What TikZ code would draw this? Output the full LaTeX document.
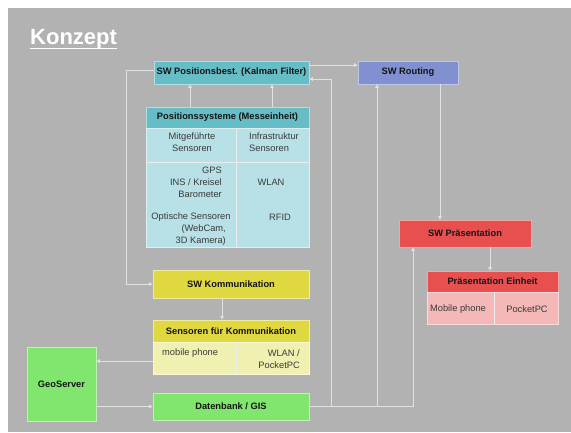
\documentclass[tikz,border=0pt]{standalone}
\usepackage{fontspec}
\setmainfont{Liberation Sans}
\usetikzlibrary{arrows.meta,calc}
\definecolor{bgc}{HTML}{B2B2B2}
\definecolor{lineC}{HTML}{E2E2E2}
\definecolor{txt}{HTML}{141414}
\definecolor{stxt}{HTML}{3A3A3A}
\definecolor{tealH}{HTML}{66BDC6}
\definecolor{tealB}{HTML}{B7E1E6}
\definecolor{routC}{HTML}{8090D0}
\definecolor{redH}{HTML}{E85050}
\definecolor{redB}{HTML}{F4B8B8}
\definecolor{yelH}{HTML}{E0D840}
\definecolor{yelB}{HTML}{F0F0B0}
\definecolor{grnC}{HTML}{80E66E}
\begin{document}
\begin{tikzpicture}[x=1pt,y=-1pt,
  conn/.style={draw=lineC, line width=0.9pt},
  arr/.style={conn, -{Triangle[length=3.5pt,width=3.5pt]}},
  box/.style={rectangle, inner sep=0pt, line width=0.8pt, text=txt,
    font=\bfseries\fontsize{9.3}{11}\selectfont},
  cell/.style={inner sep=0pt, text=stxt, font=\fontsize{9.3}{12}\selectfont},
  split/.style={draw=white!85!gray, line width=0.8pt}
]
\useasboundingbox (0,0) rectangle (571,433);
\fill[white] (0,0) rectangle (571,433);
\fill[bgc] (8,8) rectangle (571,432);

% title
\node[anchor=base west, inner sep=0pt, text=white, font=\bfseries\fontsize{22}{24}\selectfont] (title) at (30,45) {Konzept};
\draw[white, line width=1.6pt] ([yshift=-3.5pt]title.base west) -- ([yshift=-3.5pt]title.base east);

% top boxes
\node[box, fill=tealH, draw=tealH!50!white, minimum width=155pt, minimum height=23pt] (pos) at (231.5,72.5) {SW Positionsbest. (Kalman Filter)};
\node[box, fill=routC, draw=routC!50!white, minimum width=100pt, minimum height=23pt] (rout) at (408,72.5) {SW Routing};

% Positionssysteme table
\node[box, fill=tealH, draw=tealH!50!white, minimum width=163pt, minimum height=21pt] (psh) at (227.5,117.5) {Positionssysteme (Messeinheit)};
\node[box, fill=tealB, draw=tealB!50!white, minimum width=163pt, minimum height=119pt] (psb) at (227.5,187.5) {};
\coordinate (cs1) at (236,162);
\draw[split] (psb.north -| cs1) -- (psb.south -| cs1);
\draw[split] (psb.west |- cs1) -- (psb.east |- cs1);
\node[cell, align=center] (ps11) at (192,142) {Mitgeführte\\Sensoren};
\node[cell, align=left, anchor=west] (ps12) at (249,142) {Infrastruktur\\Sensoren};
\node[cell, align=right, anchor=east] (ps21) at (222,182) {GPS\\INS / Kreisel\\Barometer};
\node[cell] (ps22) at (271,182) {WLAN};
\node[cell] (ps31) at (191,217) {Optische Sensoren};
\node[cell, align=right, anchor=east] (ps31b) at (226,235) {(WebCam,\\3D Kamera)};
\node[cell] (ps32) at (280,217) {RFID};

% Kommunikation
\node[box, fill=yelH, draw=yelH!50!white, minimum width=156pt, minimum height=28pt] (swk) at (231,284) {SW Kommunikation};
\node[box, fill=yelH, draw=yelH!50!white, minimum width=156pt, minimum height=22pt] (skh) at (231,331) {Sensoren für Kommunikation};
\node[box, fill=yelB, draw=yelB!50!white, minimum width=156pt, minimum height=32pt] (skb) at (231,358) {};
\coordinate (cs2) at (236,0);
\draw[split] (skb.north -| cs2) -- (skb.south -| cs2);
\node[cell, anchor=west] (sk1) at (162,353) {mobile phone};
\node[cell, align=right, anchor=east] (sk2) at (300,359) {WLAN /\\PocketPC};

% GeoServer, Datenbank
\node[box, fill=grnC, draw=grnC!50!white, minimum width=69pt, minimum height=74pt] (geo) at (61.5,384) {GeoServer};
\node[box, fill=grnC, draw=grnC!50!white, minimum width=156pt, minimum height=27pt] (db) at (231,406.5) {Datenbank / GIS};

% Praesentation
\node[box, fill=redH, draw=redH!50!white, minimum width=132pt, minimum height=27pt] (swp) at (465,233.5) {SW Präsentation};
\node[box, fill=redH, draw=redH!50!white, minimum width=131pt, minimum height=21pt] (peh) at (492.5,281.5) {Präsentation Einheit};
\node[box, fill=redB, draw=redB!50!white, minimum width=131pt, minimum height=32pt] (peb) at (492.5,308) {};
\coordinate (cs3) at (494,0);
\draw[split] (peb.north -| cs3) -- (peb.south -| cs3);
\node[cell] (pe1) at (458,309) {Mobile phone};
\node[cell] (pe2) at (527,309) {PocketPC};

% connectors
\coordinate (xa) at (190,0);
\coordinate (xb) at (272,0);
\draw[arr] (psh.north -| xa) -- (pos.south -| xa);
\draw[arr] (psh.north -| xb) -- (pos.south -| xb);
\draw[arr] ([yshift=7.5pt]pos.east) -- ([yshift=7.5pt]rout.west);
\draw[arr] ([yshift=2.5pt]pos.west) -| ++(-27,0) |- (swk.west);
\coordinate (xr) at (440,0);
\draw[arr] (rout.south -| xr) -- (swp.north -| xr);
\coordinate (xp) at (490,0);
\draw[arr] (swp.south -| xp) -- (peh.north -| xp);
\coordinate (xk) at (222,0);
\draw[arr] (swk.south -| xk) -- (skh.north -| xk);
\coordinate (ys) at (0,361);
\draw[arr] (skb.west |- ys) -- (geo.east |- ys);
\draw[arr] (geo.east |- db.west) -- (db.west);
\coordinate (x1) at (331,0);
\coordinate (x2) at (377,0);
\coordinate (x3) at (413,0);
\coordinate (y1) at (0,79);
\draw[arr] (db.east) -- (db.east -| x3) -- (swp.south -| x3);
\draw[arr] (db.east -| x1) -- (y1 -| x1) -- (pos.east |- y1);
\draw[arr] (db.east -| x2) -- (rout.south -| x2);
\end{tikzpicture}
\end{document}
